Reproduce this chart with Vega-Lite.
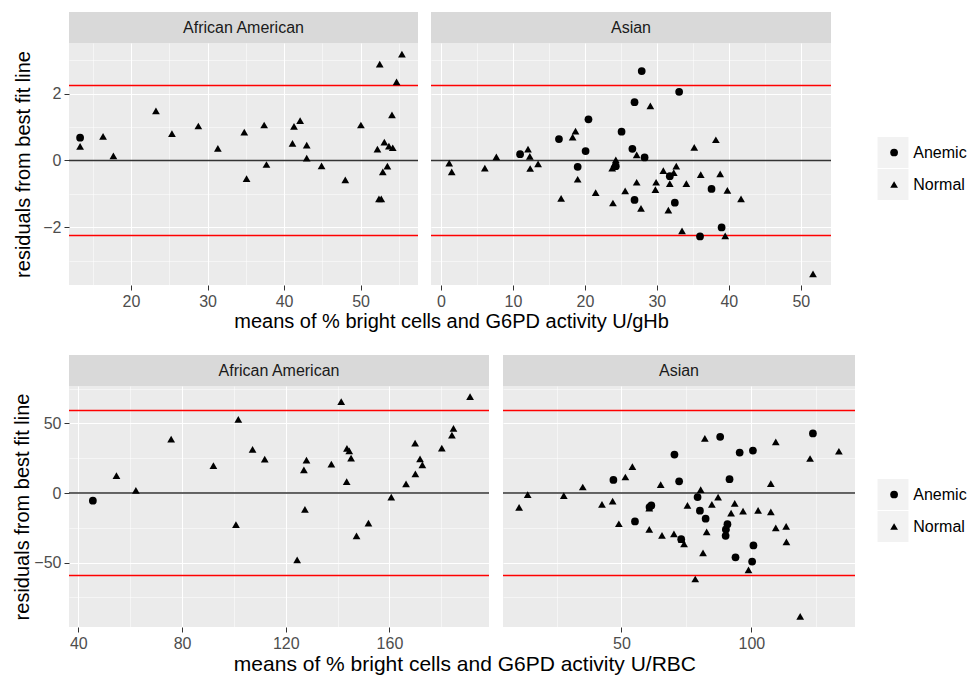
{
  "$schema": "https://vega.github.io/schema/vega-lite/v6.json",
  "padding": {"left": 12, "top": 12, "right": 0, "bottom": 0},
  "config": {
    "font": "Liberation Sans",
    "view": {"stroke": null},
    "axis": {"labelFontSize": 16, "labelColor": "#4D4D4D", "tickColor": "#333333", "tickSize": 5, "labelPadding": 3, "domain": false, "gridColor": "#FFFFFF", "titleFontSize": 20, "titleFontWeight": "normal", "titleColor": "#000000", "labelFlush": false, "labelOverlap": false},
    "title": {"fontSize": 20, "fontWeight": "normal", "color": "#000000"},
    "legend": {"orient": "none", "padding": 0, "title": null, "labelFontSize": 16, "labelColor": "#000000"},
    "text": {"fontSize": 16, "color": "#1A1A1A"}
  },
  "datasets": {
    "keys": [{"key": "Anemic"}, {"key": "Normal"}],
    "tl": [
      {"mean": 13.35, "resid": 0.68, "status": "Anemic"},
      {"mean": 13.35, "resid": 0.42, "status": "Normal"},
      {"mean": 16.35, "resid": 0.72, "status": "Normal"},
      {"mean": 17.7, "resid": 0.14, "status": "Normal"},
      {"mean": 23.26, "resid": 1.48, "status": "Normal"},
      {"mean": 25.35, "resid": 0.8, "status": "Normal"},
      {"mean": 28.8, "resid": 1.03, "status": "Normal"},
      {"mean": 31.35, "resid": 0.36, "status": "Normal"},
      {"mean": 34.8, "resid": 0.85, "status": "Normal"},
      {"mean": 35.1, "resid": -0.54, "status": "Normal"},
      {"mean": 37.4, "resid": 1.06, "status": "Normal"},
      {"mean": 37.7, "resid": -0.12, "status": "Normal"},
      {"mean": 41.1, "resid": 0.51, "status": "Normal"},
      {"mean": 41.3, "resid": 1.02, "status": "Normal"},
      {"mean": 42.1, "resid": 1.19, "status": "Normal"},
      {"mean": 42.96, "resid": 0.46, "status": "Normal"},
      {"mean": 42.96, "resid": 0.07, "status": "Normal"},
      {"mean": 44.9, "resid": -0.16, "status": "Normal"},
      {"mean": 48.0, "resid": -0.58, "status": "Normal"},
      {"mean": 50.04, "resid": 1.06, "status": "Normal"},
      {"mean": 52.5, "resid": 2.88, "status": "Normal"},
      {"mean": 52.2, "resid": 0.34, "status": "Normal"},
      {"mean": 52.4, "resid": -1.15, "status": "Normal"},
      {"mean": 52.7, "resid": -1.15, "status": "Normal"},
      {"mean": 52.9, "resid": -0.34, "status": "Normal"},
      {"mean": 53.1, "resid": 0.55, "status": "Normal"},
      {"mean": 53.5, "resid": -0.17, "status": "Normal"},
      {"mean": 53.7, "resid": 0.43, "status": "Normal"},
      {"mean": 54.2, "resid": 0.38, "status": "Normal"},
      {"mean": 54.1, "resid": 1.36, "status": "Normal"},
      {"mean": 54.7, "resid": 2.35, "status": "Normal"},
      {"mean": 55.4, "resid": 3.18, "status": "Normal"}
    ],
    "tr": [
      {"mean": 27.9, "resid": 2.67, "status": "Anemic"},
      {"mean": 33.1, "resid": 2.05, "status": "Anemic"},
      {"mean": 26.9, "resid": 1.74, "status": "Anemic"},
      {"mean": 20.5, "resid": 1.23, "status": "Anemic"},
      {"mean": 25.1, "resid": 0.86, "status": "Anemic"},
      {"mean": 16.4, "resid": 0.64, "status": "Anemic"},
      {"mean": 20.1, "resid": 0.28, "status": "Anemic"},
      {"mean": 26.6, "resid": 0.35, "status": "Anemic"},
      {"mean": 11.0, "resid": 0.19, "status": "Anemic"},
      {"mean": 19.0, "resid": -0.19, "status": "Anemic"},
      {"mean": 24.3, "resid": -0.17, "status": "Anemic"},
      {"mean": 28.3, "resid": 0.09, "status": "Anemic"},
      {"mean": 31.8, "resid": -0.47, "status": "Anemic"},
      {"mean": 37.6, "resid": -0.85, "status": "Anemic"},
      {"mean": 26.9, "resid": -1.18, "status": "Anemic"},
      {"mean": 32.5, "resid": -1.26, "status": "Anemic"},
      {"mean": 39.0, "resid": -2.0, "status": "Anemic"},
      {"mean": 36.0, "resid": -2.27, "status": "Anemic"},
      {"mean": 29.1, "resid": 1.63, "status": "Normal"},
      {"mean": 18.7, "resid": 0.88, "status": "Normal"},
      {"mean": 18.3, "resid": 0.7, "status": "Normal"},
      {"mean": 12.1, "resid": 0.34, "status": "Normal"},
      {"mean": 12.35, "resid": 0.12, "status": "Normal"},
      {"mean": 7.7, "resid": 0.11, "status": "Normal"},
      {"mean": 1.15, "resid": -0.08, "status": "Normal"},
      {"mean": 1.5, "resid": -0.34, "status": "Normal"},
      {"mean": 6.1, "resid": -0.23, "status": "Normal"},
      {"mean": 12.4, "resid": -0.24, "status": "Normal"},
      {"mean": 13.5, "resid": -0.1, "status": "Normal"},
      {"mean": 19.0, "resid": -0.56, "status": "Normal"},
      {"mean": 16.7, "resid": -1.13, "status": "Normal"},
      {"mean": 21.5, "resid": -0.96, "status": "Normal"},
      {"mean": 23.9, "resid": -1.27, "status": "Normal"},
      {"mean": 25.6, "resid": -0.91, "status": "Normal"},
      {"mean": 23.8, "resid": -0.23, "status": "Normal"},
      {"mean": 24.3, "resid": 0.02, "status": "Normal"},
      {"mean": 24.1, "resid": -0.1, "status": "Normal"},
      {"mean": 27.2, "resid": 0.17, "status": "Normal"},
      {"mean": 27.2, "resid": -0.65, "status": "Normal"},
      {"mean": 27.8, "resid": -1.43, "status": "Normal"},
      {"mean": 29.8, "resid": -0.87, "status": "Normal"},
      {"mean": 29.9, "resid": -0.65, "status": "Normal"},
      {"mean": 30.9, "resid": -0.3, "status": "Normal"},
      {"mean": 31.8, "resid": -0.69, "status": "Normal"},
      {"mean": 32.35, "resid": -0.36, "status": "Normal"},
      {"mean": 32.7, "resid": -0.17, "status": "Normal"},
      {"mean": 31.6, "resid": -1.48, "status": "Normal"},
      {"mean": 34.1, "resid": -0.69, "status": "Normal"},
      {"mean": 33.5, "resid": -2.1, "status": "Normal"},
      {"mean": 35.2, "resid": 0.39, "status": "Normal"},
      {"mean": 36.1, "resid": -0.42, "status": "Normal"},
      {"mean": 38.2, "resid": 0.62, "status": "Normal"},
      {"mean": 38.8, "resid": -0.4, "status": "Normal"},
      {"mean": 39.8, "resid": -0.89, "status": "Normal"},
      {"mean": 39.5, "resid": -2.25, "status": "Normal"},
      {"mean": 41.7, "resid": -1.15, "status": "Normal"},
      {"mean": 51.7, "resid": -3.39, "status": "Normal"}
    ],
    "bl": [
      {"mean": 45.6, "resid": -5.5, "status": "Anemic"},
      {"mean": 54.7, "resid": 12.5, "status": "Normal"},
      {"mean": 62.2, "resid": 1.9, "status": "Normal"},
      {"mean": 75.8, "resid": 38.7, "status": "Normal"},
      {"mean": 92.1, "resid": 19.7, "status": "Normal"},
      {"mean": 100.8, "resid": -22.8, "status": "Normal"},
      {"mean": 101.7, "resid": 52.9, "status": "Normal"},
      {"mean": 107.2, "resid": 31.3, "status": "Normal"},
      {"mean": 111.9, "resid": 24.3, "status": "Normal"},
      {"mean": 124.4, "resid": -48.1, "status": "Normal"},
      {"mean": 127.0, "resid": 16.6, "status": "Normal"},
      {"mean": 128.0, "resid": 23.6, "status": "Normal"},
      {"mean": 127.4, "resid": -11.8, "status": "Normal"},
      {"mean": 137.6, "resid": 20.7, "status": "Normal"},
      {"mean": 141.4, "resid": 65.6, "status": "Normal"},
      {"mean": 143.5, "resid": 8.2, "status": "Normal"},
      {"mean": 143.6, "resid": 32.0, "status": "Normal"},
      {"mean": 144.5, "resid": 30.3, "status": "Normal"},
      {"mean": 145.2, "resid": 25.0, "status": "Normal"},
      {"mean": 147.3, "resid": -30.8, "status": "Normal"},
      {"mean": 151.9, "resid": -21.6, "status": "Normal"},
      {"mean": 160.7, "resid": -2.9, "status": "Normal"},
      {"mean": 166.4, "resid": 6.5, "status": "Normal"},
      {"mean": 169.9, "resid": 35.8, "status": "Normal"},
      {"mean": 170.0, "resid": 13.7, "status": "Normal"},
      {"mean": 171.8, "resid": 24.5, "status": "Normal"},
      {"mean": 172.7, "resid": 20.2, "status": "Normal"},
      {"mean": 180.2, "resid": 32.2, "status": "Normal"},
      {"mean": 184.1, "resid": 41.6, "status": "Normal"},
      {"mean": 184.7, "resid": 46.4, "status": "Normal"},
      {"mean": 191.1, "resid": 69.2, "status": "Normal"}
    ],
    "br": [
      {"mean": 88.0, "resid": 40.4, "status": "Anemic"},
      {"mean": 123.7, "resid": 42.8, "status": "Anemic"},
      {"mean": 70.4, "resid": 27.6, "status": "Anemic"},
      {"mean": 95.5, "resid": 29.1, "status": "Anemic"},
      {"mean": 100.6, "resid": 30.5, "status": "Anemic"},
      {"mean": 46.9, "resid": 9.4, "status": "Anemic"},
      {"mean": 72.2, "resid": 8.4, "status": "Anemic"},
      {"mean": 91.6, "resid": 9.9, "status": "Anemic"},
      {"mean": 61.5, "resid": -8.9, "status": "Anemic"},
      {"mean": 60.8, "resid": -10.1, "status": "Anemic"},
      {"mean": 79.3, "resid": -2.9, "status": "Anemic"},
      {"mean": 80.2, "resid": -12.7, "status": "Anemic"},
      {"mean": 82.4, "resid": -18.5, "status": "Anemic"},
      {"mean": 90.8, "resid": -22.4, "status": "Anemic"},
      {"mean": 90.2, "resid": -26.2, "status": "Anemic"},
      {"mean": 90.1, "resid": -30.8, "status": "Anemic"},
      {"mean": 55.2, "resid": -20.4, "status": "Anemic"},
      {"mean": 73.0, "resid": -33.2, "status": "Anemic"},
      {"mean": 93.9, "resid": -46.2, "status": "Anemic"},
      {"mean": 100.8, "resid": -37.7, "status": "Anemic"},
      {"mean": 100.3, "resid": -49.3, "status": "Anemic"},
      {"mean": 82.1, "resid": 39.2, "status": "Normal"},
      {"mean": 109.4, "resid": 36.8, "status": "Normal"},
      {"mean": 122.6, "resid": 24.8, "status": "Normal"},
      {"mean": 133.7, "resid": 30.0, "status": "Normal"},
      {"mean": 54.2, "resid": 19.0, "status": "Normal"},
      {"mean": 51.5, "resid": 11.5, "status": "Normal"},
      {"mean": 35.1, "resid": 4.3, "status": "Normal"},
      {"mean": 65.1, "resid": 6.0, "status": "Normal"},
      {"mean": 107.5, "resid": 6.7, "status": "Normal"},
      {"mean": 80.5, "resid": 2.4, "status": "Normal"},
      {"mean": 13.9, "resid": -1.2, "status": "Normal"},
      {"mean": 10.6, "resid": -10.3, "status": "Normal"},
      {"mean": 27.8, "resid": -1.9, "status": "Normal"},
      {"mean": 42.5, "resid": -8.2, "status": "Normal"},
      {"mean": 46.6, "resid": -5.8, "status": "Normal"},
      {"mean": 60.7, "resid": -10.8, "status": "Normal"},
      {"mean": 49.0, "resid": -22.1, "status": "Normal"},
      {"mean": 75.4, "resid": -8.9, "status": "Normal"},
      {"mean": 84.8, "resid": -8.2, "status": "Normal"},
      {"mean": 87.2, "resid": -2.9, "status": "Normal"},
      {"mean": 93.6, "resid": -7.5, "status": "Normal"},
      {"mean": 92.2, "resid": -14.4, "status": "Normal"},
      {"mean": 96.8, "resid": -13.0, "status": "Normal"},
      {"mean": 102.6, "resid": -12.5, "status": "Normal"},
      {"mean": 107.5, "resid": -13.5, "status": "Normal"},
      {"mean": 60.7, "resid": -26.2, "status": "Normal"},
      {"mean": 65.6, "resid": -30.5, "status": "Normal"},
      {"mean": 70.2, "resid": -29.3, "status": "Normal"},
      {"mean": 73.2, "resid": -33.4, "status": "Normal"},
      {"mean": 74.1, "resid": -36.5, "status": "Normal"},
      {"mean": 82.8, "resid": -27.9, "status": "Normal"},
      {"mean": 90.2, "resid": -24.5, "status": "Normal"},
      {"mean": 109.4, "resid": -25.0, "status": "Normal"},
      {"mean": 113.4, "resid": -24.0, "status": "Normal"},
      {"mean": 113.5, "resid": -35.1, "status": "Normal"},
      {"mean": 81.4, "resid": -43.0, "status": "Normal"},
      {"mean": 98.9, "resid": -55.3, "status": "Normal"},
      {"mean": 78.4, "resid": -61.8, "status": "Normal"},
      {"mean": 118.8, "resid": -88.7, "status": "Normal"}
    ]
  },
  "resolve": {"scale": {"shape": "independent", "opacity": "independent"}, "legend": {"shape": "independent", "opacity": "independent"}},
  "spacing": 23,
  "vconcat": [
    {
      "title": {"text": "means of % bright cells and G6PD activity U/gHb", "orient": "bottom", "anchor": "start", "frame": "bounds", "offset": 3, "dx": 221},
      "spacing": 11,
      "hconcat": [
        {
          "spacing": 0,
          "vconcat": [
            {"data": {"values": [{"race": "African American"}]}, "width": 349, "height": 31, "view": {"fill": "#D9D9D9", "stroke": null}, "mark": {"type": "text"}, "encoding": {"text": {"field": "race"}}},
            {
              "width": 349, "height": 242, "view": {"fill": "#EBEBEB", "stroke": null},
              "layer": [
                {"data": {"name": "keys"}, "mark": {"type": "point", "filled": true, "color": "#F2F2F2", "size": 0},
                 "encoding": {"opacity": {"field": "key", "type": "nominal", "scale": {"range": [1, 1]},
                   "legend": {"legendX": 808.5, "legendY": 125, "symbolType": "square", "symbolSize": 961, "symbolFillColor": "#F2F2F2", "symbolStrokeWidth": 0, "rowPadding": 1, "labelExpr": "''"}}}},
                {"data": {"values": [{"ref": 0}]}, "mark": {"type": "rule", "color": "#333333", "strokeWidth": 1.6}, "encoding": {"y": {"field": "ref", "type": "quantitative"}}},
                {"data": {"values": [{"ref": 2.24}, {"ref": -2.24}]}, "mark": {"type": "rule", "color": "#FF0000", "strokeWidth": 1.5}, "encoding": {"y": {"field": "ref", "type": "quantitative"}}},
                {"data": {"name": "tl"}, "mark": {"type": "point", "filled": true, "color": "#000000", "size": 60, "opacity": 1},
                 "encoding": {
                   "x": {"field": "mean", "type": "quantitative", "title": null, "scale": {"domain": [11.9, 57.5], "nice": false, "zero": false},
                     "axis": {"values": [15, 20, 25, 30, 35, 40, 45, 50, 55], "labelExpr": "datum.value % 10 === 0 ? datum.label : ''", "labelFontSize": {"condition": {"test": "datum.value % 10 === 0", "value": 16}, "value": 0}, "tickOpacity": {"condition": {"test": "datum.value % 10 === 0", "value": 1}, "value": 0}, "gridWidth": {"condition": {"test": "datum.value % 10 === 0", "value": 1.1}, "value": 0.5}}},
                   "y": {"field": "resid", "type": "quantitative", "title": "residuals from best fit line", "scale": {"domain": [-3.72, 3.51], "nice": false, "zero": false},
                     "axis": {"titlePadding": 9.5, "values": [-3, -2, -1, 0, 1, 2, 3], "labelExpr": "datum.value % 2 === 0 ? datum.label : ''", "labelFontSize": {"condition": {"test": "datum.value % 2 === 0", "value": 16}, "value": 0}, "tickOpacity": {"condition": {"test": "datum.value % 2 === 0", "value": 1}, "value": 0}, "gridWidth": {"condition": {"test": "datum.value % 2 === 0", "value": 1.1}, "value": 0.5}}},
                   "shape": {"field": "status", "type": "nominal", "scale": {"domain": ["Anemic", "Normal"], "range": ["circle", "triangle-up"]},
                     "legend": {"legendX": 817.1, "legendY": 132.5, "symbolSize": 60, "symbolFillColor": "#000000", "symbolStrokeWidth": 0, "rowPadding": 16, "labelOffset": 11.2}}
                 }}
              ]
            }
          ]
        },
        {
          "spacing": 0,
          "vconcat": [
            {"data": {"values": [{"race": "Asian"}]}, "width": 400, "height": 31, "view": {"fill": "#D9D9D9", "stroke": null}, "mark": {"type": "text"}, "encoding": {"text": {"field": "race"}}},
            {
              "width": 400, "height": 242, "view": {"fill": "#EBEBEB", "stroke": null},
              "layer": [
                {"data": {"values": [{"ref": 0}]}, "mark": {"type": "rule", "color": "#333333", "strokeWidth": 1.6}, "encoding": {"y": {"field": "ref", "type": "quantitative"}}},
                {"data": {"values": [{"ref": 2.24}, {"ref": -2.24}]}, "mark": {"type": "rule", "color": "#FF0000", "strokeWidth": 1.5}, "encoding": {"y": {"field": "ref", "type": "quantitative"}}},
                {"data": {"name": "tr"}, "mark": {"type": "point", "filled": true, "color": "#000000", "size": 60, "opacity": 1},
                 "encoding": {
                   "x": {"field": "mean", "type": "quantitative", "title": null, "scale": {"domain": [-1.38, 54.2], "nice": false, "zero": false},
                     "axis": {"values": [0, 5, 10, 15, 20, 25, 30, 35, 40, 45, 50], "labelExpr": "datum.value % 10 === 0 ? datum.label : ''", "labelFontSize": {"condition": {"test": "datum.value % 10 === 0", "value": 16}, "value": 0}, "tickOpacity": {"condition": {"test": "datum.value % 10 === 0", "value": 1}, "value": 0}, "gridWidth": {"condition": {"test": "datum.value % 10 === 0", "value": 1.1}, "value": 0.5}}},
                   "y": {"field": "resid", "type": "quantitative", "title": null, "scale": {"domain": [-3.72, 3.51], "nice": false, "zero": false},
                     "axis": {"labels": false, "ticks": false, "values": [-3, -2, -1, 0, 1, 2, 3], "gridWidth": {"condition": {"test": "datum.value % 2 === 0", "value": 1.1}, "value": 0.5}}},
                   "shape": {"field": "status", "type": "nominal", "scale": {"domain": ["Anemic", "Normal"], "range": ["circle", "triangle-up"]},
                     "legend": {"legendX": 817.1, "legendY": 132.5, "symbolSize": 60, "symbolFillColor": "#000000", "symbolStrokeWidth": 0, "rowPadding": 16, "labelOffset": 11.2}}
                 }}
              ]
            }
          ]
        }
      ]
    },
    {
      "title": {"text": "means of % bright cells and G6PD activity U/RBC", "orient": "bottom", "anchor": "start", "frame": "bounds", "offset": 3, "dx": 221, "fontSize": 21},
      "spacing": 12,
      "hconcat": [
        {
          "spacing": 0,
          "vconcat": [
            {"data": {"values": [{"race": "African American"}]}, "width": 420, "height": 31, "view": {"fill": "#D9D9D9", "stroke": null}, "mark": {"type": "text"}, "encoding": {"text": {"field": "race"}}},
            {
              "width": 420, "height": 241, "view": {"fill": "#EBEBEB", "stroke": null},
              "layer": [
                {"data": {"name": "keys"}, "mark": {"type": "point", "filled": true, "color": "#F2F2F2", "size": 0},
                 "encoding": {"opacity": {"field": "key", "type": "nominal", "scale": {"range": [1, 1]},
                   "legend": {"legendX": 808.5, "legendY": 124, "symbolType": "square", "symbolSize": 961, "symbolFillColor": "#F2F2F2", "symbolStrokeWidth": 0, "rowPadding": 1, "labelExpr": "''"}}}},
                {"data": {"values": [{"ref": 0}]}, "mark": {"type": "rule", "color": "#333333", "strokeWidth": 1.6}, "encoding": {"y": {"field": "ref", "type": "quantitative"}}},
                {"data": {"values": [{"ref": 59.3}, {"ref": -59.3}]}, "mark": {"type": "rule", "color": "#FF0000", "strokeWidth": 1.5}, "encoding": {"y": {"field": "ref", "type": "quantitative"}}},
                {"data": {"name": "bl"}, "mark": {"type": "point", "filled": true, "color": "#000000", "size": 60, "opacity": 1},
                 "encoding": {
                   "x": {"field": "mean", "type": "quantitative", "title": null, "scale": {"domain": [36.4, 198.4], "nice": false, "zero": false},
                     "axis": {"values": [40, 60, 80, 100, 120, 140, 160, 180], "labelExpr": "datum.value % 40 === 0 ? datum.label : ''", "labelFontSize": {"condition": {"test": "datum.value % 40 === 0", "value": 16}, "value": 0}, "tickOpacity": {"condition": {"test": "datum.value % 40 === 0", "value": 1}, "value": 0}, "gridWidth": {"condition": {"test": "datum.value % 40 === 0", "value": 1.1}, "value": 0.5}}},
                   "y": {"field": "resid", "type": "quantitative", "title": "residuals from best fit line", "scale": {"domain": [-96.3, 76.9], "nice": false, "zero": false},
                     "axis": {"titlePadding": 1, "values": [-75, -50, -25, 0, 25, 50, 75], "labelExpr": "datum.value % 50 === 0 ? datum.label : ''", "labelFontSize": {"condition": {"test": "datum.value % 50 === 0", "value": 16}, "value": 0}, "tickOpacity": {"condition": {"test": "datum.value % 50 === 0", "value": 1}, "value": 0}, "gridWidth": {"condition": {"test": "datum.value % 50 === 0", "value": 1.1}, "value": 0.5}}},
                   "shape": {"field": "status", "type": "nominal", "scale": {"domain": ["Anemic", "Normal"], "range": ["circle", "triangle-up"]},
                     "legend": {"legendX": 817.1, "legendY": 131.5, "symbolSize": 60, "symbolFillColor": "#000000", "symbolStrokeWidth": 0, "rowPadding": 16, "labelOffset": 11.2}}
                 }}
              ]
            }
          ]
        },
        {
          "spacing": 0,
          "vconcat": [
            {"data": {"values": [{"race": "Asian"}]}, "width": 352, "height": 31, "view": {"fill": "#D9D9D9", "stroke": null}, "mark": {"type": "text"}, "encoding": {"text": {"field": "race"}}},
            {
              "width": 352, "height": 241, "view": {"fill": "#EBEBEB", "stroke": null},
              "layer": [
                {"data": {"values": [{"ref": 0}]}, "mark": {"type": "rule", "color": "#333333", "strokeWidth": 1.6}, "encoding": {"y": {"field": "ref", "type": "quantitative"}}},
                {"data": {"values": [{"ref": 59.3}, {"ref": -59.3}]}, "mark": {"type": "rule", "color": "#FF0000", "strokeWidth": 1.5}, "encoding": {"y": {"field": "ref", "type": "quantitative"}}},
                {"data": {"name": "br"}, "mark": {"type": "point", "filled": true, "color": "#000000", "size": 60, "opacity": 1},
                 "encoding": {
                   "x": {"field": "mean", "type": "quantitative", "title": null, "scale": {"domain": [4.4, 139.9], "nice": false, "zero": false},
                     "axis": {"values": [25, 50, 75, 100, 125], "labelExpr": "datum.value % 50 === 0 ? datum.label : ''", "labelFontSize": {"condition": {"test": "datum.value % 50 === 0", "value": 16}, "value": 0}, "tickOpacity": {"condition": {"test": "datum.value % 50 === 0", "value": 1}, "value": 0}, "gridWidth": {"condition": {"test": "datum.value % 50 === 0", "value": 1.1}, "value": 0.5}}},
                   "y": {"field": "resid", "type": "quantitative", "title": null, "scale": {"domain": [-96.3, 76.9], "nice": false, "zero": false},
                     "axis": {"labels": false, "ticks": false, "values": [-75, -50, -25, 0, 25, 50, 75], "gridWidth": {"condition": {"test": "datum.value % 50 === 0", "value": 1.1}, "value": 0.5}}},
                   "shape": {"field": "status", "type": "nominal", "scale": {"domain": ["Anemic", "Normal"], "range": ["circle", "triangle-up"]},
                     "legend": {"legendX": 817.1, "legendY": 131.5, "symbolSize": 60, "symbolFillColor": "#000000", "symbolStrokeWidth": 0, "rowPadding": 16, "labelOffset": 11.2}}
                 }}
              ]
            }
          ]
        }
      ]
    }
  ]
}
